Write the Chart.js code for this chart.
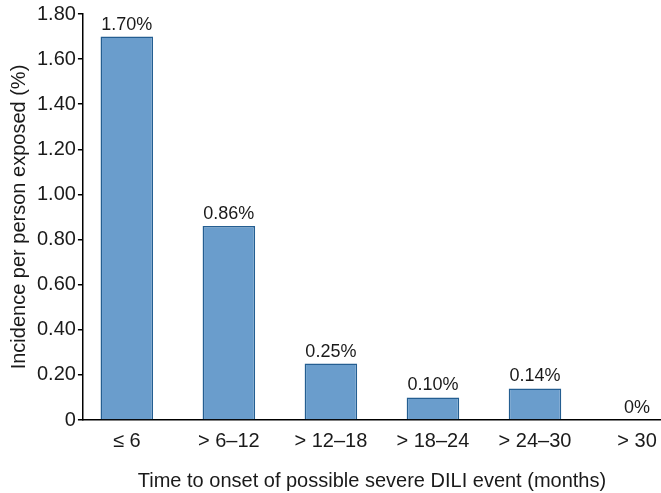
<!DOCTYPE html>
<html>
<head>
<meta charset="utf-8">
<script src="https://cdn.jsdelivr.net/npm/chart.js@4/dist/chart.umd.min.js"></script>
<style>
html,body{margin:0;padding:0;background:#fff;}
#wrap{width:661px;height:493px;position:relative;}
</style>
</head>
<body>
<div id="wrap"><canvas id="c"></canvas></div>
<script>
const categories = ['≤ 6', '> 6–12', '> 12–18', '> 18–24', '> 24–30', '> 30'];
const incidence = [1.70, 0.86, 0.25, 0.10, 0.14, 0];
const valueLabels = ['1.70%', '0.86%', '0.25%', '0.10%', '0.14%', '0%'];
const yTicks = [0, 0.2, 0.4, 0.6, 0.8, 1.0, 1.2, 1.4, 1.6, 1.8];

const FONT = "'Liberation Sans', Arial, sans-serif";

const valueLabelPlugin = {
  id: 'valueLabels',
  afterDatasetsDraw(chart) {
    const ctx = chart.ctx;
    const meta = chart.getDatasetMeta(0);
    ctx.save();
    ctx.font = '18px ' + FONT;
    ctx.fillStyle = '#1a1a1a';
    ctx.textAlign = 'center';
    ctx.textBaseline = 'bottom';
    meta.data.forEach((bar, i) => {
      ctx.fillText(valueLabels[i], bar.x, bar.y - 3);
    });
    ctx.restore();
  }
};

new Chart(document.getElementById('c'), {
  type: 'bar',
  data: {
    datasets: [{
      data: incidence.map((v, i) => ({ x: i, y: v })),
      backgroundColor: '#6a9dcc',
      borderColor: '#245e91',
      borderWidth: 1.5,
      barPercentage: 0.515,
      categoryPercentage: 1.0
    }]
  },
  options: {
    responsive: true,
    maintainAspectRatio: false,
    animation: false,
    layout: { padding: { top: 6, right: 0, bottom: 0, left: 7 } },
    plugins: { legend: { display: false }, tooltip: { enabled: false } },
    scales: {
      x: {
        type: 'linear',
        offset: false,
        min: -0.43,
        max: 5.235,
        afterBuildTicks(scale) { scale.ticks = categories.map((c, i) => ({ value: i })); },
        afterFit(scale) { scale.paddingRight = 0; },
        ticks: {
          autoSkip: false,
          maxRotation: 0,
          color: '#1a1a1a',
          font: { family: FONT, size: 20 },
          padding: 9,
          callback: (v) => categories[v]
        },
        grid: { display: false, drawTicks: false },
        border: { display: true, color: '#000', width: 1.5 },
        title: {
          display: true,
          text: 'Time to onset of possible severe DILI event (months)',
          color: '#1a1a1a',
          font: { family: FONT, size: 20 },
          padding: { top: 7, bottom: 0 }
        }
      },
      y: {
        min: 0,
        max: 1.8,
        afterBuildTicks(scale) { scale.ticks = yTicks.map(v => ({ value: v })); },
        ticks: {
          color: '#1a1a1a',
          font: { family: FONT, size: 20 },
          padding: 2,
          callback: (v) => v === 0 ? '0' : v.toFixed(2)
        },
        grid: { display: true, drawOnChartArea: false, drawTicks: true, tickLength: 5, color: '#000', lineWidth: 1.5 },
        border: { display: true, color: '#000', width: 1.5 },
        title: {
          display: true,
          text: 'Incidence per person exposed (%)',
          color: '#1a1a1a',
          font: { family: FONT, size: 20 },
          padding: { top: 0, bottom: 4 }
        }
      }
    }
  },
  plugins: [valueLabelPlugin]
});
</script>
</body>
</html>
